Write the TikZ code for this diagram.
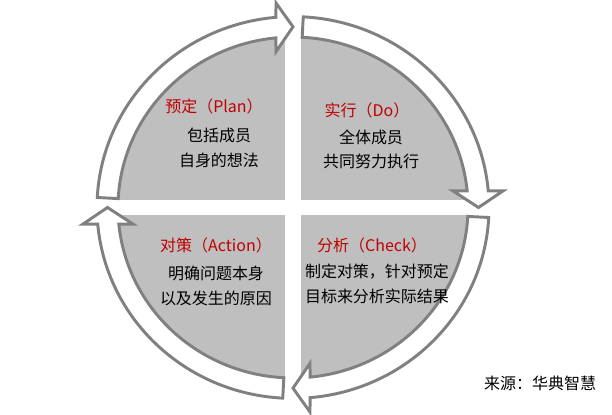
\documentclass[tikz,border=0pt]{standalone}
\usepackage{fontspec}
\setmainfont{Noto Sans CJK SC}
\definecolor{quadgray}{HTML}{BFBFBF}
\definecolor{edgegray}{HTML}{808080}
\definecolor{headred}{HTML}{C00000}
\tikzset{
  quadfill/.style={fill=quadgray},
  ringarrow/.style={fill=white, draw=edgegray, line width=2.2pt, line join=miter, miter limit=10},
  headtext/.style={text=headred, font=\fontsize{12pt}{14pt}\selectfont, inner sep=0pt},
  bodytext/.style={text=black, font=\fontsize{12pt}{14pt}\selectfont, inner sep=0pt},
}
\begin{document}
\begin{tikzpicture}[x=0.75pt,y=0.75pt]
\useasboundingbox (0,0) rectangle (612,415);
% gray quadrants
\fill[quadfill] (293,207.5) ellipse [x radius=177, y radius=172.4];
\fill[white] (285,0) rectangle (301,415);
\fill[white] (0,200) rectangle (612,215);
% ring arrows
\begin{scope}[shift={(293,207.5)}, yscale=0.974]
  \foreach \rot in {0,-90,180,90} {
    \begin{scope}[rotate=\rot]
      \path[ringarrow] (87:175) -- (87:196) arc[start angle=87, end angle=5, radius=196]
        -- (210,17) -- (185.5,0) -- (160,17) -- (5.6:175)
        arc[start angle=5.6, end angle=87, radius=175] -- cycle;
    \end{scope}
  }
\end{scope}
% texts
\node[headtext] (planh) at (214,309) {预定（Plan）};
\node[bodytext] (plan1) at (219,280) {包括成员};
\node[bodytext] (plan2) at (219,255) {自身的想法};
\node[headtext] (doh) at (367,305) {实行（Do）};
\node[bodytext] (do1) at (371,278) {全体成员};
\node[bodytext] (do2) at (371,254) {共同努力执行};
\node[headtext] (checkh) at (372,170) {分析（Check）};
\node[bodytext] (check1) at (377,143) {制定对策，针对预定};
\node[bodytext] (check2) at (377,118.5) {目标来分析实际结果};
\node[headtext] (acth) at (216,169.5) {对策（Action）};
\node[bodytext] (act1) at (216,142) {明确问题本身};
\node[bodytext] (act2) at (216,117) {以及发生的原因};
\node[bodytext] (src) at (540,32) {来源：华典智慧};
\end{tikzpicture}
\end{document}
